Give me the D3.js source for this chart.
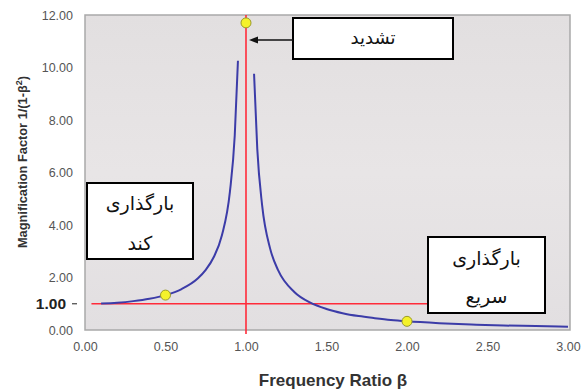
<!DOCTYPE html>
<html>
<head>
<meta charset="utf-8">
<script src="https://cdn.jsdelivr.net/npm/d3@7"></script>
<style>
  html, body { margin: 0; padding: 0; background: #fff; }
  svg { display: block; }
</style>
</head>
<body>
<svg id="chart" width="584" height="392"></svg>
<script>
// Frequency ratio β and magnification factor 1/|1-β²|, below resonance
const betaBelow = [0.10, 0.20, 0.30, 0.40, 0.50, 0.60, 0.70, 0.75, 0.80, 0.85, 0.90, 0.93, 0.95];
const magBelow  = [1.01, 1.04, 1.10, 1.19, 1.33, 1.56, 1.96, 2.29, 2.78, 3.60, 5.26, 7.40, 10.26];
// ... and above resonance
const betaAbove = [1.05, 1.07, 1.10, 1.15, 1.20, 1.30, 1.40, 1.50, 1.60, 1.70, 1.80, 1.90, 2.00, 2.20, 2.40, 2.60, 2.80, 3.00];
const magAbove  = [9.76, 6.90, 4.76, 3.10, 2.27, 1.45, 1.04, 0.80, 0.64, 0.53, 0.45, 0.38, 0.33, 0.26, 0.21, 0.17, 0.15, 0.12];
// Highlighted points: slow loading, resonance, fast loading
const markerBeta = [0.50, 1.00, 2.00];
const markerMag  = [1.33, 11.70, 0.33];

const xTicks = [0, 0.5, 1, 1.5, 2, 2.5, 3];
const xTickLabels = ["0.00", "0.50", "1.00", "1.50", "2.00", "2.50", "3.00"];
const yTicks = [0, 2, 4, 6, 8, 10, 12];
const yTickLabels = ["0.00", "2.00", "4.00", "6.00", "8.00", "10.00", "12.00"];
const refBeta = 1.0;      // resonance line
const refMag = 1.0;       // static response line
const refMagLabel = "1.00";

const labelResonance = "تشدید";
const labelSlow = ["بارگذاری", "کند"];
const labelFast = ["بارگذاری", "سریع"];
const xTitle = "Frequency Ratio β";

const svg = d3.select("#chart");
const font = "Liberation Sans, Arial, sans-serif";
const arabicFont = "DejaVu Sans, Noto Sans, sans-serif";

const x = d3.scaleLinear().domain([0, 3]).range([85, 568]);
const y = d3.scaleLinear().domain([0, 12]).range([330, 15]);

// plot background
const defs = svg.append("defs");
const grad = defs.append("linearGradient").attr("id", "bg").attr("x1", 0).attr("y1", 0).attr("x2", 0).attr("y2", 1);
grad.append("stop").attr("offset", "0%").attr("stop-color", "#e2dfe0");
grad.append("stop").attr("offset", "50%").attr("stop-color", "#e8e5e6");
grad.append("stop").attr("offset", "100%").attr("stop-color", "#e2dfe1");

svg.append("rect")
  .attr("x", x(0)).attr("y", y(12))
  .attr("width", x(3) - x(0) + 2).attr("height", y(0) - y(12))
  .attr("fill", "url(#bg)").attr("stroke", "#a9a9a9").attr("stroke-width", 1.5);

// axes (labels only)
const xAxis = svg.append("g").attr("transform", `translate(0,${y(0) + 17})`)
  .call(d3.axisBottom(x).tickValues(xTicks).tickSize(0).tickFormat((d, i) => xTickLabels[i]));
xAxis.select(".domain").remove();
xAxis.selectAll("text").attr("font-family", font).attr("font-size", 12.5).attr("fill", "#555").attr("dy", "0.32em").attr("y", 0);

const yAxis = svg.append("g").attr("transform", `translate(73,0)`)
  .call(d3.axisLeft(y).tickValues(yTicks).tickSize(0).tickPadding(0).tickFormat((d, i) => yTickLabels[i]));
yAxis.select(".domain").remove();
yAxis.selectAll("text").attr("font-family", font).attr("font-size", 12.5).attr("fill", "#555");

// emphasised 1.00 label with dash
svg.append("text").attr("x", 66).attr("y", y(refMag)).attr("dy", "0.35em")
  .attr("text-anchor", "end").style("font-family", font).attr("font-size", 15.5)
  .attr("font-weight", "bold").attr("fill", "#222").text(refMagLabel);
svg.append("line").attr("x1", 72).attr("x2", 77).attr("y1", y(refMag)).attr("y2", y(refMag))
  .attr("stroke", "#444").attr("stroke-width", 1.2);

// reference lines
svg.append("line").attr("x1", x(0.04)).attr("x2", x(2.15))
  .attr("y1", y(refMag)).attr("y2", y(refMag))
  .attr("stroke", "#ff2b3a").attr("stroke-width", 1.5);
svg.append("line").attr("x1", x(refBeta)).attr("x2", x(refBeta))
  .attr("y1", y(12)).attr("y2", y(0) + 4)
  .attr("stroke", "#ff2b3a").attr("stroke-width", 1.6);

// response curve
const line = d3.line().x(d => x(d[0])).y(d => y(d[1])).curve(d3.curveMonotoneX);
[[betaBelow, magBelow], [betaAbove, magAbove]].forEach(([b, m]) => {
  svg.append("path").datum(b.map((v, i) => [v, m[i]]))
    .attr("d", line).attr("fill", "none")
    .attr("stroke", "#3c3ca8").attr("stroke-width", 2);
});

// highlighted points
svg.selectAll("circle.mark").data(markerBeta.map((b, i) => [b, markerMag[i]]))
  .join("circle").attr("class", "mark")
  .attr("cx", d => x(d[0])).attr("cy", d => y(d[1])).attr("r", 5)
  .attr("fill", "#f4f22a").attr("stroke", "#9a9a2a").attr("stroke-width", 1);

// annotation boxes
function box(x0, y0, w, h, lines, lineYs, size) {
  svg.append("rect").attr("x", x0).attr("y", y0).attr("width", w).attr("height", h)
    .attr("fill", "#fff").attr("stroke", "#000").attr("stroke-width", 2);
  lines.forEach((t, i) => {
    svg.append("text").attr("x", x0 + w / 2).attr("y", lineYs[i]).attr("dy", "0.35em")
      .attr("text-anchor", "middle").attr("direction", "rtl")
      .style("font-family", arabicFont).attr("font-size", size)
      .attr("fill", "#111").text(t);
  });
}
box(293, 18, 160, 41, [labelResonance], [38], 18);
box(87, 183, 106, 76, labelSlow, [203, 243], 19);
box(428, 237, 117, 76, labelFast, [258, 296], 19);

// arrow pointing at the resonance line
const arrowY = 40;
svg.append("line").attr("x1", 293).attr("x2", x(refBeta) + 8).attr("y1", arrowY).attr("y2", arrowY)
  .attr("stroke", "#111").attr("stroke-width", 1.3);
svg.append("path")
  .attr("d", `M${x(refBeta) + 3},${arrowY} l9,-3.5 l0,7 Z`)
  .attr("fill", "#111");

// axis titles
svg.append("text").attr("x", 333).attr("y", 386).attr("text-anchor", "middle")
  .style("font-family", font).attr("font-size", 17).attr("font-weight", "bold")
  .attr("fill", "#333").text(xTitle);

const yt = svg.append("text").attr("transform", "translate(27,162) rotate(-90)")
  .attr("text-anchor", "middle").style("font-family", font).attr("font-size", 12.8)
  .attr("font-weight", "bold").attr("fill", "#333");
yt.append("tspan").text("Magnification Factor 1/(1-β");
yt.append("tspan").attr("dy", -5).attr("font-size", 9).text("2");
yt.append("tspan").attr("dy", 5).text(")");
</script>
</body>
</html>
